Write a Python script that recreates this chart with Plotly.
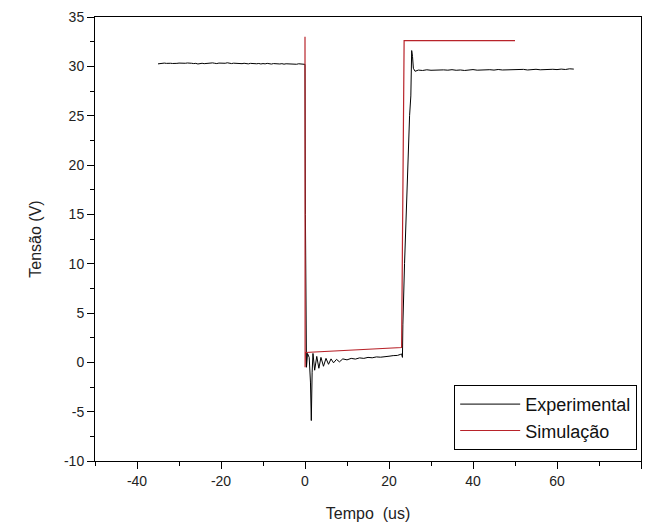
import numpy as np
import plotly.graph_objects as go

# Experimental: pre-switch plateau (t = -35 .. 0 us, step 0.5)
exp_left_t = np.arange(-35.0, 0.01, 0.5)
exp_left_v = [30.25, 30.30, 30.28, 30.33, 30.30, 30.27, 30.31, 30.29, 30.26, 30.30,
              30.33, 30.30, 30.27, 30.31, 30.34, 30.29, 30.31, 30.28, 30.30, 30.24,
              30.28, 30.31, 30.27, 30.30, 30.32, 30.29, 30.35, 30.31, 30.28, 30.33,
              30.30, 30.27, 30.31, 30.36, 30.30, 30.28, 30.32, 30.29, 30.26, 30.30,
              30.27, 30.31, 30.28, 30.25, 30.30, 30.27, 30.31, 30.26, 30.29, 30.24,
              30.28, 30.25, 30.30, 30.26, 30.23, 30.28, 30.25, 30.29, 30.24, 30.27,
              30.22, 30.26, 30.24, 30.28, 30.23, 30.25, 30.21, 30.26, 30.22, 30.24,
              30.20]

# Experimental: switching transient and low interval
exp_mid_t = [0.1, 0.2, 0.35, 0.6, 1.0, 1.3, 1.5, 1.7, 1.9, 2.3, 2.8, 3.3, 3.8, 4.4,
             5.0, 5.6, 6.2, 6.8, 7.5, 8.2, 9.0, 10.0, 11.0, 12.0, 13.0, 14.0, 15.0,
             16.0, 17.0, 18.0, 19.0, 20.0, 21.0, 22.0, 22.7, 23.0, 23.2, 23.3, 23.7,
             24.3, 24.9, 25.2, 25.4, 25.6, 25.8, 26.2]
exp_mid_v = [15.0, 3.8, -0.5, 0.9, 0.5, -2.0, -5.9, -1.0, 0.9, -0.8, 0.6, -0.6, 0.5,
             -0.4, 0.4, -0.2, 0.35, -0.05, 0.3, 0.05, 0.35, 0.25, 0.4, 0.33, 0.45,
             0.4, 0.5, 0.46, 0.55, 0.52, 0.6, 0.62, 0.68, 0.7, 0.8, 0.85, 0.5, 3.8,
             10.0, 18.0, 25.0, 27.0, 31.6, 31.0, 29.8, 29.5]

# Experimental: post-switch plateau (t = 27 .. 64 us, step 1)
exp_right_t = np.arange(27.0, 64.01, 1.0)
exp_right_v = [29.62, 29.58, 29.65, 29.60, 29.63, 29.59, 29.64, 29.61, 29.66, 29.60,
               29.63, 29.58, 29.62, 29.67, 29.61, 29.64, 29.60, 29.66, 29.62, 29.68,
               29.63, 29.65, 29.61, 29.67, 29.64, 29.69, 29.63, 29.66, 29.70, 29.65,
               29.68, 29.64, 29.70, 29.67, 29.72, 29.68, 29.75, 29.72]

exp_t = list(exp_left_t) + exp_mid_t + list(exp_right_t)
exp_v = list(exp_left_v) + exp_mid_v + list(exp_right_v)

# Simulation
sim_t = [0.0, 0.03, 0.1, 23.0, 23.6, 50.0]
sim_v = [33.0, -0.5, 1.0, 1.5, 32.6, 32.6]

x_ticks = [-40, -20, 0, 20, 40, 60, 80]
x_ticklabels = ["-40", "-20", "0", "20", "40", "60", "80"]
y_ticks = [-10, -5, 0, 5, 10, 15, 20, 25, 30, 35]
y_ticklabels = ["-10", "-5", "0", "5", "10", "15", "20", "25", "30", "35"]

fig = go.Figure()
fig.add_trace(go.Scatter(x=exp_t, y=exp_v, mode="lines", name="Experimental",
                         line=dict(color="#000000", width=1)))
fig.add_trace(go.Scatter(x=sim_t, y=sim_v, mode="lines", name="Simulação",
                         line=dict(color="#b8232a", width=1.2)))

font_family = "Liberation Sans, Arial, sans-serif"
fig.update_layout(
    width=648, height=526,
    margin=dict(l=95, r=7, t=17, b=65),
    plot_bgcolor="white", paper_bgcolor="white",
    font=dict(family=font_family, color="#222222", size=14),
    legend=dict(x=0.993, y=0.025, xanchor="right", yanchor="bottom",
                bordercolor="#000000", borderwidth=1, bgcolor="white",
                font=dict(size=18, color="#111111"), tracegroupgap=0,
                itemwidth=60),
    showlegend=True,
)
fig.update_xaxes(range=[-50, 80], tickvals=x_ticks, ticktext=x_ticklabels,
                 ticks="outside", ticklen=7,
                 tickcolor="#000", showline=True, linecolor="#000", linewidth=1,
                 mirror=True, showgrid=False, zeroline=False,
                 minor=dict(dtick=10, tick0=-50, ticks="outside", ticklen=4, tickcolor="#000"),
                 title=dict(text="Tempo  (us)", font=dict(size=16), standoff=20),
                 tickfont=dict(size=14))
fig.update_yaxes(range=[-10, 35], tickvals=y_ticks, ticktext=y_ticklabels,
                 ticks="outside", ticklen=7,
                 tickcolor="#000", showline=True, linecolor="#000", linewidth=1,
                 mirror=True, showgrid=False, zeroline=False,
                 minor=dict(dtick=2.5, tick0=-10, ticks="outside", ticklen=4, tickcolor="#000"),
                 title=dict(text="Tensão (V)", font=dict(size=16), standoff=18),
                 tickfont=dict(size=14))

fig.write_html("out.html")
